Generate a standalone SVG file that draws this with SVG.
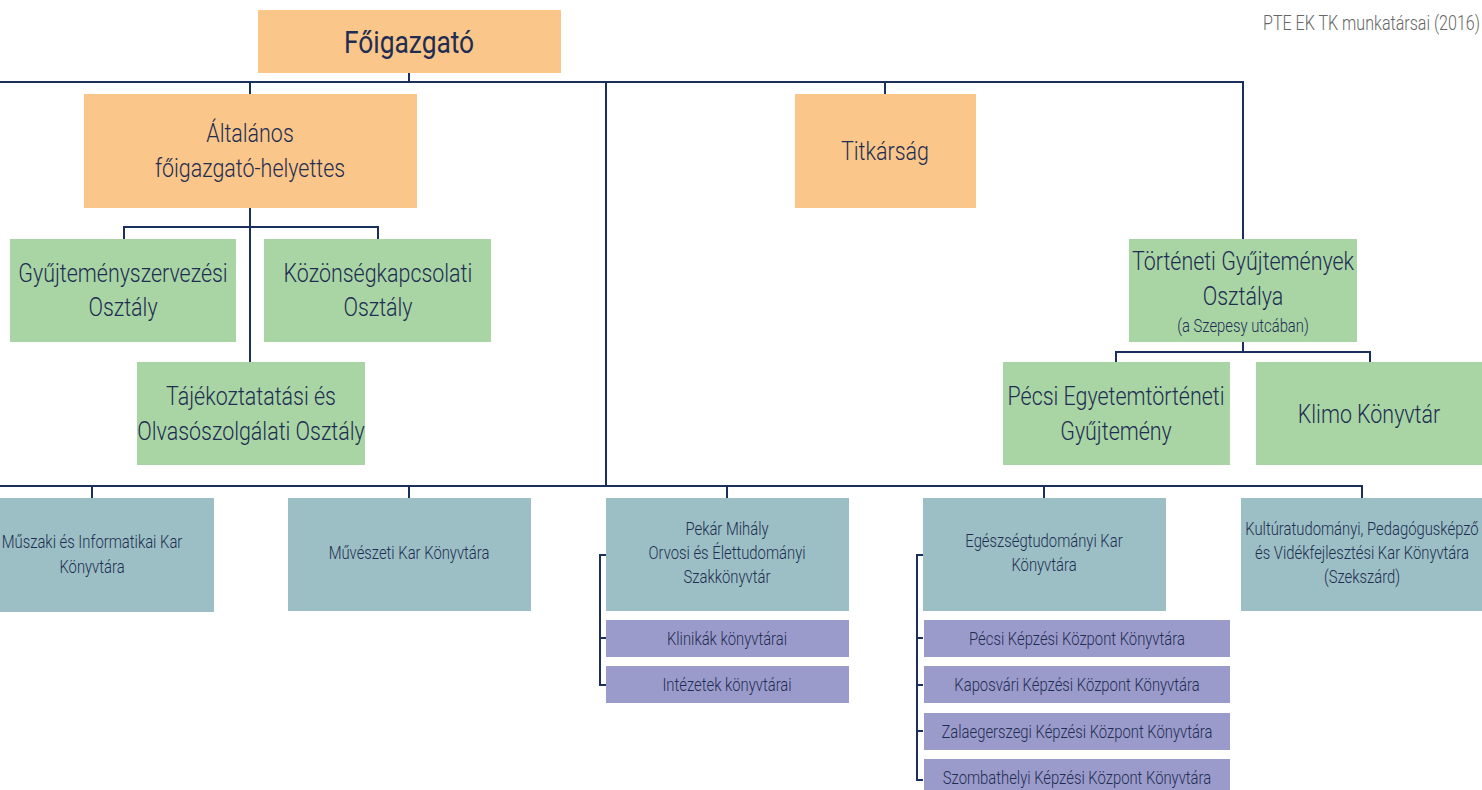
<svg xmlns="http://www.w3.org/2000/svg" width="1482" height="790" viewBox="0 0 1482 790">
<style>
.or{fill:#FAC68A}.gr{fill:#A9D5A5}.te{fill:#9BBFC4}.pu{fill:#9B9BCB}
text{font-family:Roboto,"Liberation Sans",sans-serif;font-weight:300;fill:#1E2D52;text-anchor:middle}
.big{font-size:26px}.mid{font-size:18px}.title{font-size:32px;font-weight:400}
.ln{fill:none;stroke:#1B2F5C;stroke-width:2}
.note{font-size:19.5px;fill:#666;text-anchor:end}
</style>
<rect width="1482" height="790" fill="#fff"/>
<g id="connectors" class="ln">
<path d="M409,73V82M0,82H1243V239M250,82V94M885,82V94M606,82V486"/>
<path d="M250,208V362M124,239V227H378V239"/>
<path d="M1243,342V352M1116,362V352H1370V362"/>
<path d="M0,486H1362V498M92,486V498M409,486V498M727,486V498M1044,486V498"/>
<path d="M606,555H600V685H606M600,638H606"/>
<path d="M923,555H917V780H923M917,638H923M917,685H923M917,731H923"/>
</g>
<g transform="scale(.824 1)"><text class="note" x="1796.1" y="30">PTE EK TK munkatársai (2016)</text></g>
<g id="foigazgato"><rect class="or" x="258" y="10" width="303" height="63"/><g transform="scale(.824 1)"><text class="title" x="496.4" y="53">Főigazgató</text></g></g>
<g id="altalanos"><rect class="or" x="84" y="94" width="333" height="114"/><g transform="scale(.824 1)"><text class="big" x="303.4" y="142">Általános</text><text class="big" x="303.4" y="177">főigazgató-helyettes</text></g></g>
<g id="titkarsag"><rect class="or" x="795" y="94" width="181" height="114"/><g transform="scale(.824 1)"><text class="big" x="1074" y="160">Titkárság</text></g></g>
<g id="gyujtemeny"><rect class="gr" x="10" y="239" width="226" height="103"/><g transform="scale(.824 1)"><text class="big" x="149.3" y="282">Gyűjteményszervezési</text><text class="big" x="149.3" y="316">Osztály</text></g></g>
<g id="kozonseg"><rect class="gr" x="264" y="239" width="227" height="103"/><g transform="scale(.824 1)"><text class="big" x="458.7" y="282">Közönségkapcsolati</text><text class="big" x="458.7" y="316">Osztály</text></g></g>
<g id="tajekoztatasi"><rect class="gr" x="137" y="362" width="228" height="103"/><g transform="scale(.824 1)"><text class="big" x="304.6" y="405">Tájékoztatatási és</text><text class="big" x="304.6" y="440">Olvasószolgálati Osztály</text></g></g>
<g id="torteneti"><rect class="gr" x="1129" y="239" width="228" height="103"/><g transform="scale(.824 1)"><text class="big" x="1508.5" y="270">Történeti Gyűjtemények</text><text class="big" x="1508.5" y="305">Osztálya</text><text class="mid" x="1508.5" y="332">(a Szepesy utcában)</text></g></g>
<g id="pecsi-egyetem"><rect class="gr" x="1003" y="362" width="227" height="103"/><g transform="scale(.824 1)"><text class="big" x="1354.4" y="405">Pécsi Egyetemtörténeti</text><text class="big" x="1354.4" y="440">Gyűjtemény</text></g></g>
<g id="klimo"><rect class="gr" x="1256" y="362" width="226" height="103"/><g transform="scale(.824 1)"><text class="big" x="1661.4" y="423">Klimo Könyvtár</text></g></g>
<g id="muszaki"><rect class="te" x="0" y="498" width="214" height="114"/><g transform="scale(.824 1)"><text class="mid" x="111.7" y="548">Műszaki és Informatikai Kar</text><text class="mid" x="111.7" y="573">Könyvtára</text></g></g>
<g id="muveszeti"><rect class="te" x="288" y="498" width="243" height="113"/><g transform="scale(.824 1)"><text class="mid" x="496.4" y="559">Művészeti Kar Könyvtára</text></g></g>
<g id="pekar"><rect class="te" x="606" y="498" width="243" height="113"/><g transform="scale(.824 1)"><text class="mid" x="882.3" y="535">Pekár Mihály</text><text class="mid" x="882.3" y="559">Orvosi és Élettudományi</text><text class="mid" x="882.3" y="583">Szakkönyvtár</text></g></g>
<g id="egeszseg"><rect class="te" x="923" y="498" width="243" height="113"/><g transform="scale(.824 1)"><text class="mid" x="1267" y="547">Egészségtudományi Kar</text><text class="mid" x="1267" y="571">Könyvtára</text></g></g>
<g id="kultura"><rect class="te" x="1241" y="498" width="241" height="113"/><g transform="scale(.824 1)"><text class="mid" x="1652.9" y="535">Kultúratudományi, Pedagógusképző</text><text class="mid" x="1652.9" y="559">és Vidékfejlesztési Kar Könyvtára</text><text class="mid" x="1652.9" y="583">(Szekszárd)</text></g></g>
<g id="klinikak"><rect class="pu" x="606" y="620" width="243" height="37"/><g transform="scale(.824 1)"><text class="mid" x="882.3" y="645">Klinikák könyvtárai</text></g></g>
<g id="intezetek"><rect class="pu" x="606" y="666" width="243" height="37"/><g transform="scale(.824 1)"><text class="mid" x="882.3" y="691">Intézetek könyvtárai</text></g></g>
<g id="pecsi-kk"><rect class="pu" x="924" y="620" width="306" height="37"/><g transform="scale(.824 1)"><text class="mid" x="1307" y="645">Pécsi Képzési Központ Könyvtára</text></g></g>
<g id="kaposvari"><rect class="pu" x="924" y="666" width="306" height="37"/><g transform="scale(.824 1)"><text class="mid" x="1307" y="691">Kaposvári Képzési Központ Könyvtára</text></g></g>
<g id="zalaegerszegi"><rect class="pu" x="924" y="713" width="306" height="37"/><g transform="scale(.824 1)"><text class="mid" x="1307" y="738">Zalaegerszegi Képzési Központ Könyvtára</text></g></g>
<g id="szombathelyi"><rect class="pu" x="924" y="759" width="306" height="31"/><g transform="scale(.824 1)"><text class="mid" x="1307" y="784">Szombathelyi Képzési Központ Könyvtára</text></g></g>
</svg>
